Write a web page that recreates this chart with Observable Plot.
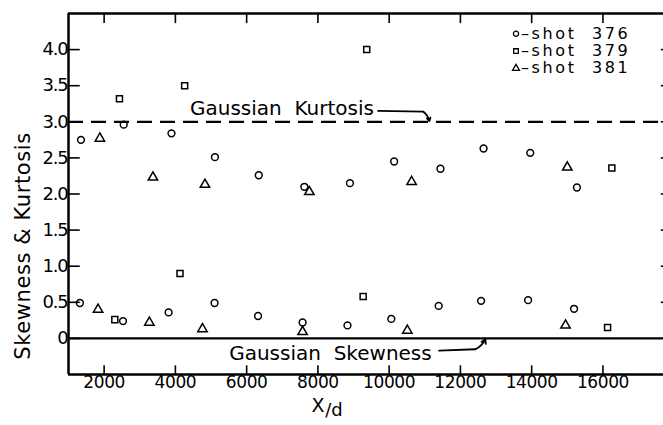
<!DOCTYPE html>
<html><head><meta charset="utf-8">
<script src="https://cdn.jsdelivr.net/npm/d3@7"></script>
<script src="https://cdn.jsdelivr.net/npm/@observablehq/plot@0.6"></script>
<style>
html,body{margin:0;padding:0;background:#fff;overflow:hidden;}
#chart svg{display:block;}
</style>
</head><body><div id="chart"></div>
<script>
// ---- tick values and labels ----
const xTicks = [2000, 4000, 6000, 8000, 10000, 12000, 14000, 16000];
const xTickLabels = ["2000", "4000", "6000", "8000", "10000", "12000", "14000", "16000"];
const yTicks = [0, 0.5, 1.0, 1.5, 2.0, 2.5, 3.0, 3.5, 4.0];
const yTickLabels = ["0", "0.5", "1.0", "1.5", "2.0", "2.5", "3.0", "3.5", "4.0"];
const yLabel = "Skewness & Kurtosis";

// ---- shot 376 (circles) ----
const s376KurtX = [1350, 2550, 3890, 5110, 6340, 7620, 8900, 10140, 11440, 12650, 13960, 15270];
const s376KurtY = [2.75, 2.96, 2.84, 2.51, 2.26, 2.10, 2.15, 2.45, 2.35, 2.63, 2.57, 2.09];
const s376SkewX = [1320, 2530, 3810, 5100, 6320, 7570, 8830, 10060, 11390, 12580, 13900, 15190];
const s376SkewY = [0.49, 0.24, 0.36, 0.49, 0.31, 0.22, 0.18, 0.27, 0.45, 0.52, 0.53, 0.41];

// ---- shot 379 (squares) ----
const s379KurtX = [2430, 4260, 9370, 16250];
const s379KurtY = [3.32, 3.50, 4.00, 2.36];
const s379SkewX = [2300, 4130, 9270, 16130];
const s379SkewY = [0.26, 0.90, 0.58, 0.15];

// ---- shot 381 (triangles) ----
const s381KurtX = [1880, 3370, 4830, 7760, 10630, 15000];
const s381KurtY = [2.77, 2.23, 2.13, 2.03, 2.17, 2.37];
const s381SkewX = [1830, 3270, 4760, 7570, 10510, 14950];
const s381SkewY = [0.40, 0.22, 0.13, 0.09, 0.11, 0.18];

// ---- reference lines and annotations ----
const gaussianKurtosis = 3.0;
const gaussianSkewness = 0.0;
const legendNames = ["\u2013shot  376", "\u2013shot  379", "\u2013shot  381"];
const legendSymbols = ["circle", "square", "triangle"];
const annKurtText = "Gaussian  Kurtosis";
const annSkewText = "Gaussian  Skewness";

// ---- build tables ----
const pts = (xs, ys) => xs.map((x, i) => ({x, y: ys[i]}));
const d376 = pts(s376KurtX, s376KurtY).concat(pts(s376SkewX, s376SkewY));
const d379 = pts(s379KurtX, s379KurtY).concat(pts(s379SkewX, s379SkewY));
const d381 = pts(s381KurtX, s381KurtY).concat(pts(s381SkewX, s381SkewY));

const xMin = 1000, xMax = 17700, yMin = -0.5, yMax = 4.5;
const legendX = 13560, legendTextX = 13700;
const legendY = [4.22, 3.98, 3.74];
const legend = legendNames.map((n, i) => ({name: n, sym: legendSymbols[i], y: legendY[i]}));

const font = "DejaVu Sans";
const marker = {fill: "none", stroke: "black", strokeWidth: 1.5};

const chart = Plot.plot({
  width: 663,
  height: 425,
  marginLeft: 68,
  marginRight: 0,
  marginTop: 13,
  marginBottom: 51,
  style: {fontFamily: font, background: "white", color: "black", overflow: "visible"},
  x: {domain: [xMin, xMax], axis: null},
  y: {domain: [yMin, yMax], axis: null},
  marks: [
    // frame (left, top, bottom)
    Plot.ruleX([xMin], {y1: yMin, y2: yMax, strokeWidth: 2.5}),
    Plot.ruleY([yMax], {x1: xMin, x2: xMax, strokeWidth: 2.5}),
    Plot.ruleY([yMin], {x1: xMin, x2: xMax, strokeWidth: 2.5}),
    // inward ticks
    Plot.ruleX(xTicks, {x: d => d, y1: yMin, y2: yMin + 0.12, strokeWidth: 1.6}),
    Plot.ruleX(xTicks, {x: d => d, y1: yMax, y2: yMax - 0.14, strokeWidth: 1.6}),
    Plot.ruleY(yTicks, {y: d => d, x1: xMin, x2: xMin + 330, strokeWidth: 1.6}),
    Plot.ruleY(yTicks.filter(d => d > 0), {y: d => d, x1: xMax - 60, x2: xMax, strokeWidth: 1.6}),
    // tick labels
    Plot.text(xTicks, {x: d => d, text: (d, i) => xTickLabels[i], frameAnchor: "bottom", dy: 13, fontSize: 17, ariaDescription: "x-tick-labels"}),
    Plot.text(yTicks, {y: d => d, text: (d, i) => yTickLabels[i], frameAnchor: "left", textAnchor: "end", dx: -1, fontSize: 18, ariaDescription: "y-tick-labels"}),
    // axis labels
    Plot.text([yLabel], {frameAnchor: "left", textAnchor: "middle", dx: -45, dy: 52, rotate: -90, fontSize: 21, ariaDescription: "y-label"}),
    Plot.text(["X"], {frameAnchor: "bottom", dx: -48, dy: 37, fontSize: 19}),
    Plot.text(["/d"], {frameAnchor: "bottom", dx: -32, dy: 41, fontSize: 18}),
    // Gaussian reference lines
    Plot.ruleY([gaussianKurtosis], {x1: xMin, x2: xMax, strokeWidth: 2.2, strokeDasharray: "15,8"}),
    Plot.ruleY([gaussianSkewness], {x1: xMin, x2: xMax, strokeWidth: 2.2}),
    // annotations
    Plot.text([annKurtText], {x: 4410, y: 3.18, textAnchor: "start", fontSize: 20}),
    Plot.line([{x: 9690, y: 3.15}, {x: 10960, y: 3.14}], {x: "x", y: "y", strokeWidth: 1.8}),
    Plot.arrow([{x1: 10960, y1: 3.14, x2: 11130, y2: 3.01}], {x1: "x1", y1: "y1", x2: "x2", y2: "y2", bend: 20, headLength: 8, strokeWidth: 1.8}),
    Plot.text([annSkewText], {x: 5510, y: -0.21, textAnchor: "start", fontSize: 20}),
    Plot.line([{x: 11400, y: -0.17}, {x: 12420, y: -0.15}], {x: "x", y: "y", strokeWidth: 1.8}),
    Plot.arrow([{x1: 12420, y1: -0.15, x2: 12700, y2: -0.01}], {x1: "x1", y1: "y1", x2: "x2", y2: "y2", bend: -20, headLength: 8, strokeWidth: 1.8}),
    // data
    Plot.dot(d376, {x: "x", y: "y", symbol: "circle", r: 3.4, ...marker}),
    Plot.dot(d379, {x: "x", y: "y", symbol: "square", r: 3.4, ...marker}),
    Plot.dot(d381, {x: "x", y: "y", symbol: "triangle", r: 3.5, ...marker}),
    // legend
    Plot.dot(legend, {x: () => legendX, y: "y", symbol: "sym", r: 2.6, fill: "none", stroke: "black", strokeWidth: 1.3}),
    Plot.text(legend, {x: () => legendTextX, y: "y", text: "name", textAnchor: "start", fontSize: 16, ariaDescription: "legend-text"})
  ]
});
// letter spacing tweaks (style only)
const spacing = {"legend-text": "2.6px", "y-tick-labels": "-1.2px", "x-tick-labels": "-0.4px", "y-label": "0.6px"};
d3.select(chart).selectAll("g[aria-description]").each(function () {
  const ls = spacing[this.getAttribute("aria-description")];
  if (ls) d3.select(this).selectAll("text").style("letter-spacing", ls);
});
d3.select(chart).selectAll("text").filter(function () { return legendNames.includes(this.textContent); }).style("letter-spacing", "2.6px");
document.getElementById("chart").appendChild(chart);
</script>
</body></html>
